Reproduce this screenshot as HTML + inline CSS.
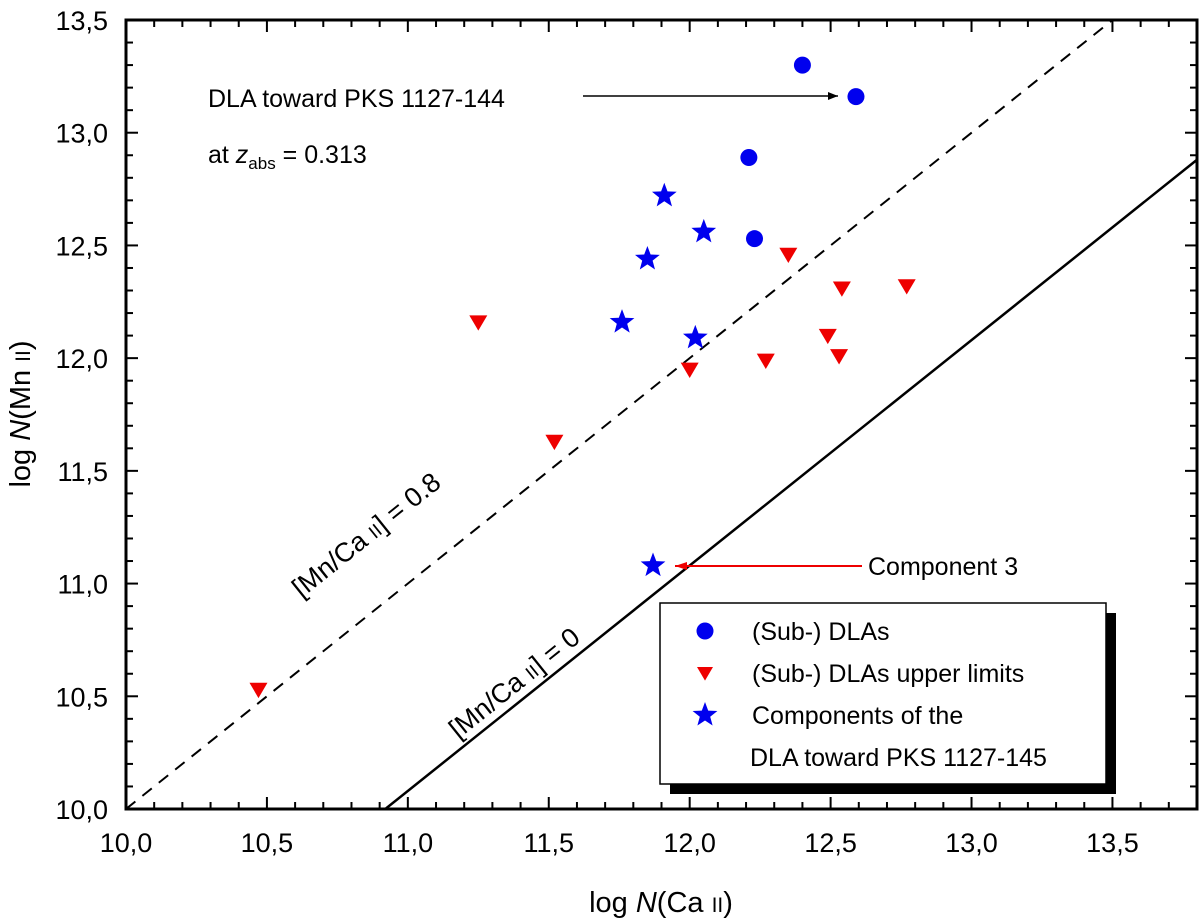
<!DOCTYPE html>
<html><head><meta charset="utf-8"><style>
body{margin:0;background:#fff;}
svg{display:block;font-family:"Liberation Sans",sans-serif;}
</style></head><body>
<svg id="c" width="1200" height="924" viewBox="0 0 1200 924"></svg>
<script>
const xTicks=[10,10.5,11,11.5,12,12.5,13,13.5];
const yTicks=[10,10.5,11,11.5,12,12.5,13,13.5];
const dlaX=[12.40,12.59,12.21,12.23];
const dlaY=[13.30,13.16,12.89,12.53];
const ulX=[12.35,12.54,12.77,11.25,12.49,12.53,12.27,12.00,11.52,10.47];
const ulY=[12.46,12.31,12.32,12.16,12.10,12.01,11.99,11.95,11.63,10.53];
const compX=[11.91,12.05,11.85,11.76,12.02,11.87];
const compY=[12.72,12.56,12.44,12.16,12.09,11.08];
const L=126,R=1197,T=20,B=809,X0=10,X1=13.8,Y0=10,Y1=13.5;
const sx=v=>L+(v-X0)/(X1-X0)*(R-L);
const sy=v=>B-(v-Y0)/(Y1-Y0)*(B-T);
const svg=document.getElementById('c');
const NS='http://www.w3.org/2000/svg';
function mk(tag,attrs,parent){const e=document.createElementNS(NS,tag);for(const k in attrs)e.setAttribute(k,attrs[k]);(parent||svg).appendChild(e);return e;}
const defs=mk('defs',{});
defs.innerHTML='<clipPath id="pc"><rect x="126" y="20" width="1071" height="789"/></clipPath><marker id="ab" markerWidth="10" markerHeight="8" refX="10" refY="4" orient="auto" markerUnits="userSpaceOnUse"><path d="M0,0L10,4L0,8z" fill="#000"/></marker><marker id="ar" markerWidth="12" markerHeight="8" refX="12" refY="4" orient="auto" markerUnits="userSpaceOnUse"><path d="M0,0L12,4L0,8z" fill="#e00"/></marker>';
const g=mk('g',{'clip-path':'url(#pc)'});
let l=mk('line',{x1:sx(10),y1:sy(10),x2:sx(13.8),y2:sy(13.8),stroke:'#000','stroke-width':2,'stroke-dasharray':'12,9'},g);


l=mk('line',{x1:sx(10.92),y1:sy(10),x2:sx(13.8),y2:sy(12.88),stroke:'#000','stroke-width':2.5},g);


let f=mk('rect',{x:L,y:T,width:R-L,height:B-T,fill:'none',stroke:'#000','stroke-width':3});


for(let i=0;i<=38;i++){const v=10+i*0.1;const x=sx(v);const maj=i%5===0;
 mk('line',{x1:x,y1:B,x2:x,y2:B-(maj?12:7),stroke:'#000','stroke-width':2});
 mk('line',{x1:x,y1:T,x2:x,y2:T+(maj?12:7),stroke:'#000','stroke-width':2});}
for(let i=0;i<=35;i++){const v=10+i*0.1;const y=sy(v);const maj=i%5===0;
 mk('line',{x1:L,y1:y,x2:L+(maj?12:7),y2:y,stroke:'#000','stroke-width':2});
 mk('line',{x1:R,y1:y,x2:R-(maj?12:7),y2:y,stroke:'#000','stroke-width':2});}
xTicks.forEach(v=>{const t=mk('text',{x:sx(v),y:852,'font-size':27,'text-anchor':'middle'});t.textContent=v.toFixed(1).replace('.',',');
 
 });
yTicks.forEach(v=>{const t=mk('text',{x:108,y:sy(v)+10,'font-size':27,'text-anchor':'end'});t.textContent=v.toFixed(1).replace('.',',');
 
 });
let t=mk('text',{x:661,y:912,'font-size':29,'text-anchor':'middle'});
t.innerHTML='log <tspan font-style="italic">N</tspan>(Ca <tspan font-size="21">II</tspan>)';


t=mk('text',{x:0,y:0,'font-size':29,'text-anchor':'middle',transform:'translate(30,414) rotate(-90)'});
t.innerHTML='log <tspan font-style="italic">N</tspan>(Mn <tspan font-size="21">II</tspan>)';


t=mk('text',{x:0,y:0,'font-size':27,'text-anchor':'middle',transform:'translate(372,542) rotate(-38.7)'});
t.innerHTML='[Mn/Ca <tspan font-size="19">II</tspan>] = 0.8';


t=mk('text',{x:0,y:0,'font-size':27,'text-anchor':'middle',transform:'translate(520,690) rotate(-38.7)'});
t.innerHTML='[Mn/Ca <tspan font-size="19">II</tspan>] = 0';


t=mk('text',{x:208,y:107,'font-size':25});t.textContent='DLA toward PKS 1127-144';


t=mk('text',{x:208,y:163,'font-size':25});t.innerHTML='at <tspan font-style="italic">z</tspan><tspan font-size="17" dy="6">abs</tspan><tspan dy="-6"> = 0.313</tspan>';


l=mk('line',{x1:583,y1:96,x2:838,y2:96,stroke:'#000','stroke-width':1.5,'marker-end':'url(#ab)'});


l=mk('line',{x1:862,y1:566,x2:675,y2:566,stroke:'#e00','stroke-width':2,'marker-end':'url(#ar)'});


t=mk('text',{x:868,y:575,'font-size':25});t.textContent='Component 3';


function star(cx,cy,r){let p='';for(let i=0;i<10;i++){const a=-Math.PI/2+i*Math.PI/5;const rr=i%2?r*0.42:r;p+=(i?'L':'M')+(cx+rr*Math.cos(a)).toFixed(1)+','+(cy+rr*Math.sin(a)).toFixed(1);}return p+'Z';}
function tri(cx,cy,s){return `M${cx-s},${cy-s*0.75}L${cx+s},${cy-s*0.75}L${cx},${cy+s*0.95}Z`;}
dlaX.forEach((v,i)=>{const c=mk('circle',{cx:sx(v),cy:sy(dlaY[i]),r:8.5,fill:'#0000ee'});
 
 });
ulX.forEach((v,i)=>{const c=mk('path',{d:tri(sx(v),sy(ulY[i]),9),fill:'#ee0000'});
 
 });
compX.forEach((v,i)=>{const c=mk('path',{d:star(sx(v),sy(compY[i]),13),fill:'#0000ee'});
 
 });
const lg=mk('g',{});


mk('rect',{x:670,y:613,width:446,height:181,fill:'#000'},lg);
mk('rect',{x:660,y:603,width:446,height:181,fill:'#fff',stroke:'#000','stroke-width':1.5},lg);
mk('circle',{cx:705,cy:631,r:8.5,fill:'#0000ee'},lg);
mk('path',{d:tri(705,673,8),fill:'#ee0000'},lg);
mk('path',{d:star(705,715,13),fill:'#0000ee'},lg);
[['(Sub-) DLAs',640],['(Sub-) DLAs upper limits',682],['Components of the',724],['DLA toward PKS 1127-145',766]].forEach(([s,y],i)=>{
 const e=mk('text',{x:i===3?750:752,y:y,'font-size':25},lg);e.textContent=s;
 
 });
</script>
</body></html>
